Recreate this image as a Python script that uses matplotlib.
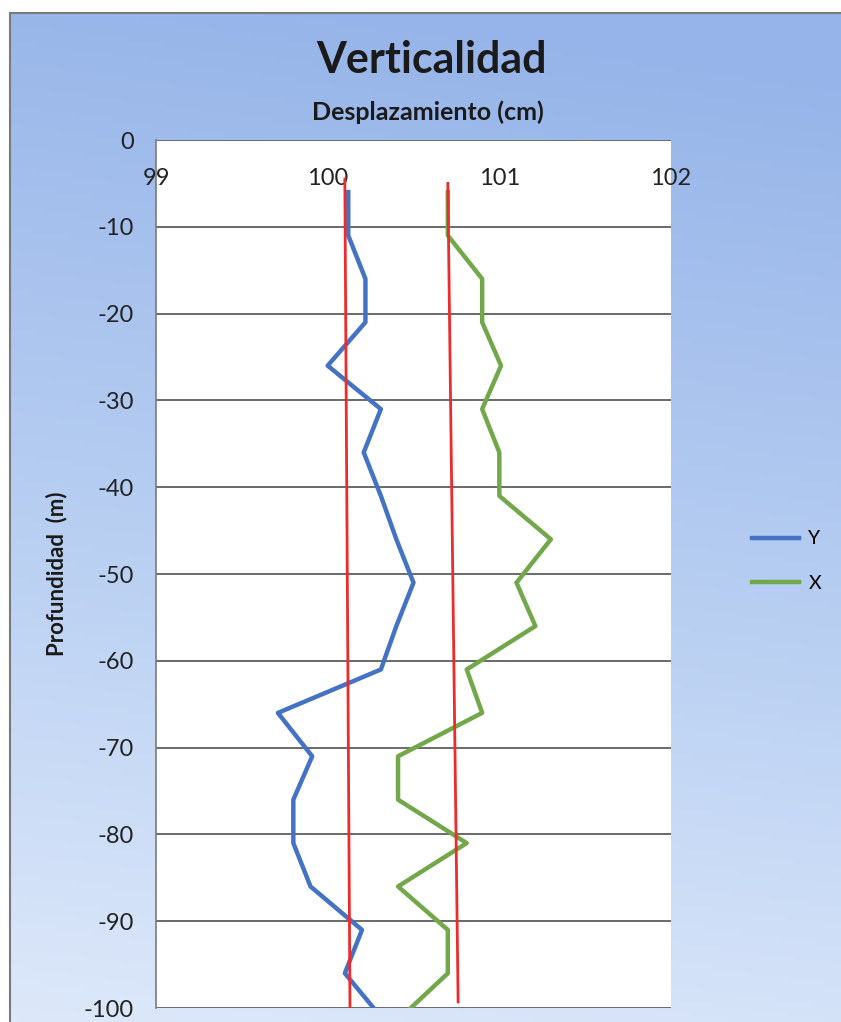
import matplotlib
matplotlib.use('Agg')
import matplotlib.pyplot as plt
import numpy as np
from matplotlib.colors import LinearSegmentedColormap

plt.rcParams['font.family'] = ['Lato', 'DejaVu Sans']
plt.rcParams['axes.unicode_minus'] = False

# depth of each reading (m)
depth = [-6, -11, -16, -21, -26, -31, -36, -41, -46, -51,
         -56, -61, -66, -71, -76, -81, -86, -91, -96, -101]
# displacement (cm)
disp_y = [100.12, 100.12, 100.22, 100.22, 100.00, 100.31, 100.21, 100.31, 100.40, 100.50,
          100.40, 100.31, 99.71, 99.91, 99.80, 99.80, 99.90, 100.20, 100.10, 100.31]
disp_x = [100.70, 100.70, 100.90, 100.90, 101.01, 100.90, 101.00, 101.00, 101.30, 101.10,
          101.21, 100.81, 100.90, 100.41, 100.41, 100.81, 100.41, 100.70, 100.70, 100.43]

# red reference lines (x values, depths)
ref_y_x = [100.10, 100.13]
ref_y_d = [-4.5, -100]
ref_x_x = [100.70, 100.76]
ref_x_d = [-5, -99.3]

x_ticks = [99, 100, 101, 102]
y_ticks = [0, -10, -20, -30, -40, -50, -60, -70, -80, -90, -100]

W, H = 841, 1022
fig = plt.figure(figsize=(W / 100, H / 100), dpi=100)
fig.patch.set_facecolor('white')

# gradient background of the chart area
bg = fig.add_axes([10 / W, 0, 1 - 10 / W, 1 - 13 / H])
cmap = LinearSegmentedColormap.from_list('bg', ['#96b4e9', '#b8cff2', '#e1ebfb'])
gy, gx = np.mgrid[0:1:200j, 0:1:200j]
grad = gy * 0.9 + (1 - gx) * 0.1 - 0.05
bg.imshow(grad, cmap=cmap, aspect='auto', extent=[0, 1, 1, 0], vmin=0, vmax=1)
bg.set_xticks([])
bg.set_yticks([])
for s in ['right', 'bottom']:
    bg.spines[s].set_visible(False)
for s in ['left', 'top']:
    bg.spines[s].set_color('#7a7a7a')
    bg.spines[s].set_linewidth(1.5)

ax = fig.add_axes([156 / W, 1 - 1008 / H, 515 / W, 868 / H])
ax.set_facecolor('white')

ax.plot(disp_y, depth, color='#4472c4', linewidth=3.2, label='Y', zorder=3)
ax.plot(disp_x, depth, color='#72a84a', linewidth=3.2, label='X', zorder=3)
ax.plot(ref_y_x, ref_y_d, color='#ee2b2b', linewidth=2.0, zorder=4)
ax.plot(ref_x_x, ref_x_d, color='#ee2b2b', linewidth=2.0, zorder=4)

ax.set_xlim(99, 102)
ax.set_ylim(-100, 0)
ax.set_xticks(x_ticks)
ax.set_yticks(y_ticks)
ax.xaxis.tick_top()
ax.tick_params(axis='x', length=0, pad=-35, labelsize=17, labelcolor='#222222')
ax.tick_params(axis='y', length=0, pad=16, labelsize=17, labelcolor='#222222')
ax.yaxis.grid(True, color='#505050', linewidth=1.2)
ax.set_axisbelow(True)
for s in ['right', 'bottom', 'top']:
    ax.spines[s].set_visible(False)
ax.spines['left'].set_color('#7a7a7a')
ax.spines['left'].set_linewidth(1.2)

ax.set_ylabel('Profundidad  (m)', fontsize=16, fontweight='bold', color='#1a1a1a')
ax.yaxis.set_label_coords(-0.172, 0.5)

fig.text(431 / W, 1 - 60 / H, 'Verticalidad', fontsize=31, fontweight='bold',
         ha='center', va='center', color='#1a1a1a')
fig.text(428 / W, 1 - 112 / H, 'Desplazamiento (cm)', fontsize=18, fontweight='bold',
         ha='center', va='center', color='#1a1a1a')

fig.legend(loc='center left', bbox_to_anchor=(752 / W, 1 - 561 / H), frameon=False,
           fontsize=14, handlelength=2.4, handletextpad=0.5, labelspacing=1.4,
           borderpad=0, borderaxespad=0)

fig.savefig('out.png', dpi=100)
